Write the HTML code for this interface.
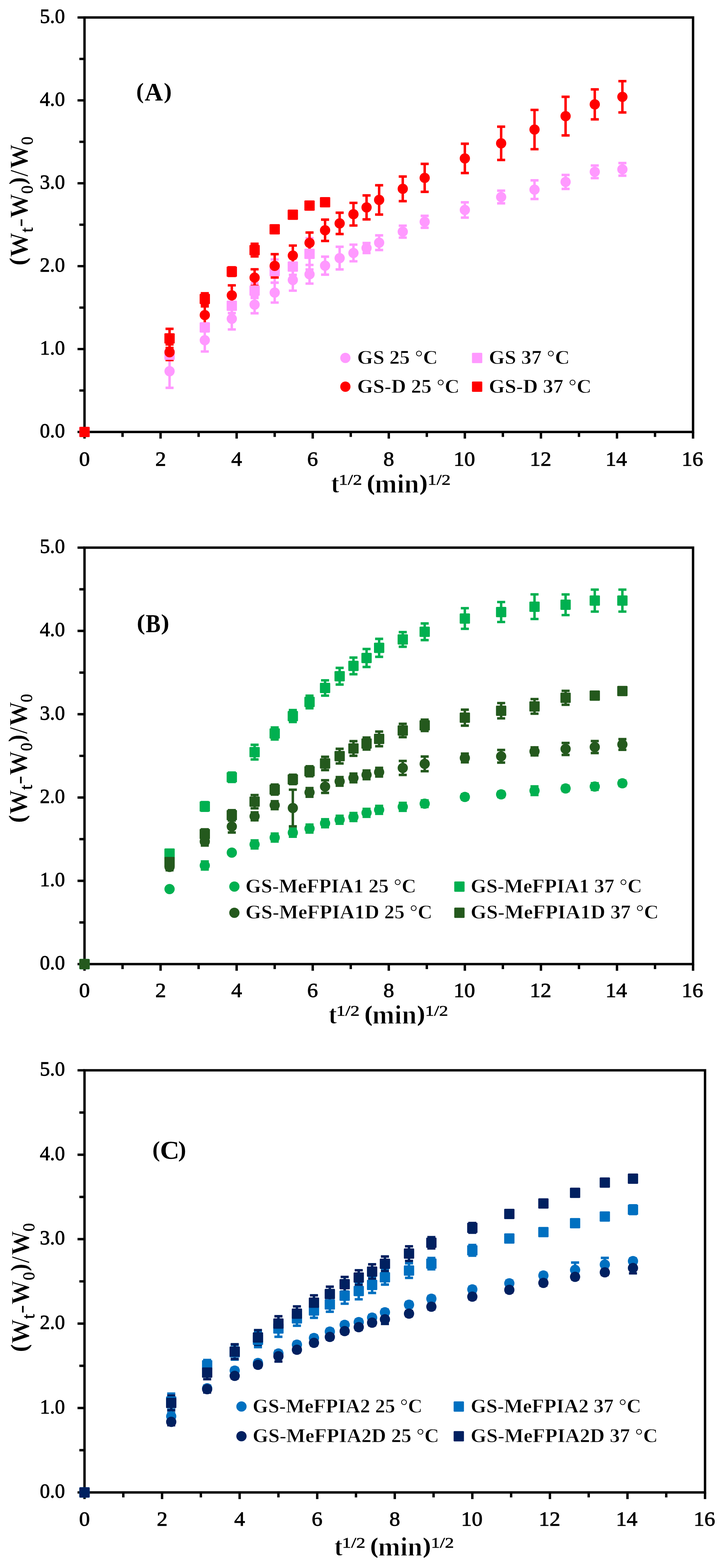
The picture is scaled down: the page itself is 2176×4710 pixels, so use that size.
<!DOCTYPE html>
<html><head><meta charset="utf-8"><title>Swelling kinetics</title><style>
html,body{margin:0;padding:0;background:#fff;}
body{width:2176px;height:4710px;overflow:hidden;}
svg{display:block;}
text{font-family:"Liberation Serif", "DejaVu Serif", serif;font-kerning:none;fill:#000;}
.tk{font-size:60.5px;font-weight:normal;stroke:#000;stroke-width:1.3px;}
.tt{stroke:#fff;stroke-width:1.6px;}
.ss{stroke:#000;stroke-width:0.9px;}
.pb{stroke:#000;stroke-width:1.2px;}
.lt{stroke:#fff;stroke-width:1.0px;}
</style></head>
<body>
<svg width="2176" height="4710" viewBox="0 0 2176 4710">
<rect width="2176" height="4710" fill="#fff"/>
<g><rect x="254" y="52.5" width="1829" height="1245.0" fill="none" stroke="#000" stroke-width="7.2"/><path d="M233.0 1297.5H254M238.5 1173.0H254M233.0 1048.5H254M238.5 924.0H254M233.0 799.5H254M238.5 675.0H254M233.0 550.5H254M238.5 426.0H254M233.0 301.5H254M238.5 177.0H254M233.0 52.5H254M254.0 1297.5V1317.5M368.3 1297.5V1312.5M482.6 1297.5V1317.5M596.9 1297.5V1312.5M711.2 1297.5V1317.5M825.6 1297.5V1312.5M939.9 1297.5V1317.5M1054.2 1297.5V1312.5M1168.5 1297.5V1317.5M1282.8 1297.5V1312.5M1397.1 1297.5V1317.5M1511.4 1297.5V1312.5M1625.8 1297.5V1317.5M1740.1 1297.5V1312.5M1854.4 1297.5V1317.5M1968.7 1297.5V1312.5M2083.0 1297.5V1317.5" stroke="#000" stroke-width="7.2" fill="none"/><text x="119.68" y="1313.70" class="tk" textLength="75.62" lengthAdjust="spacingAndGlyphs">0.0</text><text x="119.68" y="1064.70" class="tk" textLength="75.62" lengthAdjust="spacingAndGlyphs">1.0</text><text x="119.68" y="815.70" class="tk" textLength="75.62" lengthAdjust="spacingAndGlyphs">2.0</text><text x="119.68" y="566.70" class="tk" textLength="75.62" lengthAdjust="spacingAndGlyphs">3.0</text><text x="119.68" y="317.70" class="tk" textLength="75.62" lengthAdjust="spacingAndGlyphs">4.0</text><text x="119.68" y="68.70" class="tk" textLength="75.62" lengthAdjust="spacingAndGlyphs">5.0</text><text x="237.82" y="1399.00" class="tk" textLength="32.37" lengthAdjust="spacingAndGlyphs">0</text><text x="466.80" y="1399.00" class="tk" textLength="32.37" lengthAdjust="spacingAndGlyphs">2</text><text x="694.94" y="1399.00" class="tk" textLength="32.37" lengthAdjust="spacingAndGlyphs">4</text><text x="923.26" y="1399.00" class="tk" textLength="32.37" lengthAdjust="spacingAndGlyphs">6</text><text x="1152.32" y="1399.00" class="tk" textLength="32.37" lengthAdjust="spacingAndGlyphs">8</text><text x="1363.15" y="1399.00" class="tk" textLength="64.73" lengthAdjust="spacingAndGlyphs">10</text><text x="1592.32" y="1399.00" class="tk" textLength="64.73" lengthAdjust="spacingAndGlyphs">12</text><text x="1819.67" y="1399.00" class="tk" textLength="64.73" lengthAdjust="spacingAndGlyphs">14</text><text x="2048.75" y="1399.00" class="tk" textLength="64.73" lengthAdjust="spacingAndGlyphs">16</text><path d="M509.6 1065.0V1165.0M497.5 1065.0H521.7M497.5 1165.0H521.7" stroke="#FF99FF" stroke-width="7.4" fill="none"/><path d="M615.5 987.9V1055.9M603.4 987.9H627.6M603.4 1055.9H627.6" stroke="#FF99FF" stroke-width="7.4" fill="none"/><path d="M696.7 925.6V989.6M684.6 925.6H708.8M684.6 989.6H708.8" stroke="#FF99FF" stroke-width="7.4" fill="none"/><path d="M765.2 889.0V941.0M753.1 889.0H777.3M753.1 941.0H777.3" stroke="#FF99FF" stroke-width="7.4" fill="none"/><path d="M825.6 848.9V908.9M813.5 848.9H837.7M813.5 908.9H837.7" stroke="#FF99FF" stroke-width="7.4" fill="none"/><path d="M880.1 809.1V873.1M868.0 809.1H892.2M868.0 873.1H892.2" stroke="#FF99FF" stroke-width="7.4" fill="none"/><path d="M930.3 795.9V851.9M918.2 795.9H942.4M918.2 851.9H942.4" stroke="#FF99FF" stroke-width="7.4" fill="none"/><path d="M977.0 771.0V825.0M964.9 771.0H989.1M964.9 825.0H989.1" stroke="#FF99FF" stroke-width="7.4" fill="none"/><path d="M1020.8 741.3V809.3M1008.7 741.3H1032.9M1008.7 809.3H1032.9" stroke="#FF99FF" stroke-width="7.4" fill="none"/><path d="M1062.3 734.9V784.9M1050.2 734.9H1074.4M1050.2 784.9H1074.4" stroke="#FF99FF" stroke-width="7.4" fill="none"/><path d="M1101.7 730.0V760.0M1089.6 730.0H1113.8M1089.6 760.0H1113.8" stroke="#FF99FF" stroke-width="7.4" fill="none"/><path d="M1139.5 707.0V751.0M1127.4 707.0H1151.6M1127.4 751.0H1151.6" stroke="#FF99FF" stroke-width="7.4" fill="none"/><path d="M1210.5 677.9V713.9M1198.4 677.9H1222.6M1198.4 713.9H1222.6" stroke="#FF99FF" stroke-width="7.4" fill="none"/><path d="M1276.4 648.3V684.3M1264.3 648.3H1288.5M1264.3 684.3H1288.5" stroke="#FF99FF" stroke-width="7.4" fill="none"/><path d="M1397.1 607.7V653.7M1385.0 607.7H1409.2M1385.0 653.7H1409.2" stroke="#FF99FF" stroke-width="7.4" fill="none"/><path d="M1506.2 572.8V610.8M1494.1 572.8H1518.3M1494.1 610.8H1518.3" stroke="#FF99FF" stroke-width="7.4" fill="none"/><path d="M1606.5 541.7V597.7M1594.4 541.7H1618.6M1594.4 597.7H1618.6" stroke="#FF99FF" stroke-width="7.4" fill="none"/><path d="M1699.9 525.5V567.5M1687.8 525.5H1712.0M1687.8 567.5H1712.0" stroke="#FF99FF" stroke-width="7.4" fill="none"/><path d="M1787.6 497.1V535.1M1775.5 497.1H1799.7M1775.5 535.1H1799.7" stroke="#FF99FF" stroke-width="7.4" fill="none"/><path d="M1870.6 489.7V527.7M1858.5 489.7H1882.7M1858.5 527.7H1882.7" stroke="#FF99FF" stroke-width="7.4" fill="none"/><path d="M509.6 1049.4V1081.4M497.5 1049.4H521.7M497.5 1081.4H521.7" stroke="#FF99FF" stroke-width="7.4" fill="none"/><path d="M615.5 971.5V995.5M603.4 971.5H627.6M603.4 995.5H627.6" stroke="#FF99FF" stroke-width="7.4" fill="none"/><path d="M696.7 896.5V940.5M684.6 896.5H708.8M684.6 940.5H708.8" stroke="#FF99FF" stroke-width="7.4" fill="none"/><path d="M765.2 851.0V895.0M753.1 851.0H777.3M753.1 895.0H777.3" stroke="#FF99FF" stroke-width="7.4" fill="none"/><path d="M825.6 779.4V849.4M813.5 779.4H837.7M813.5 849.4H837.7" stroke="#FF99FF" stroke-width="7.4" fill="none"/><path d="M880.1 775.7V825.7M868.0 775.7H892.2M868.0 825.7H892.2" stroke="#FF99FF" stroke-width="7.4" fill="none"/><path d="M930.3 715.4V809.4M918.2 715.4H942.4M918.2 809.4H942.4" stroke="#FF99FF" stroke-width="7.4" fill="none"/><path d="M509.6 1034.5V1081.5M497.5 1034.5H521.7M497.5 1081.5H521.7" stroke="#FF0000" stroke-width="7.4" fill="none"/><path d="M615.5 920.4V972.4M603.4 920.4H627.6M603.4 972.4H627.6" stroke="#FF0000" stroke-width="7.4" fill="none"/><path d="M696.7 857.1V917.1M684.6 857.1H708.8M684.6 917.1H708.8" stroke="#FF0000" stroke-width="7.4" fill="none"/><path d="M765.2 808.9V858.9M753.1 808.9H777.3M753.1 858.9H777.3" stroke="#FF0000" stroke-width="7.4" fill="none"/><path d="M825.6 763.5V833.5M813.5 763.5H837.7M813.5 833.5H837.7" stroke="#FF0000" stroke-width="7.4" fill="none"/><path d="M880.1 737.6V797.6M868.0 737.6H892.2M868.0 797.6H892.2" stroke="#FF0000" stroke-width="7.4" fill="none"/><path d="M930.3 698.5V760.5M918.2 698.5H942.4M918.2 760.5H942.4" stroke="#FF0000" stroke-width="7.4" fill="none"/><path d="M977.0 659.7V723.7M964.9 659.7H989.1M964.9 723.7H989.1" stroke="#FF0000" stroke-width="7.4" fill="none"/><path d="M1020.8 639.0V703.0M1008.7 639.0H1032.9M1008.7 703.0H1032.9" stroke="#FF0000" stroke-width="7.4" fill="none"/><path d="M1062.3 609.4V677.4M1050.2 609.4H1074.4M1050.2 677.4H1074.4" stroke="#FF0000" stroke-width="7.4" fill="none"/><path d="M1101.7 587.0V659.0M1089.6 587.0H1113.8M1089.6 659.0H1113.8" stroke="#FF0000" stroke-width="7.4" fill="none"/><path d="M1139.5 556.5V644.5M1127.4 556.5H1151.6M1127.4 644.5H1151.6" stroke="#FF0000" stroke-width="7.4" fill="none"/><path d="M1210.5 530.2V604.2M1198.4 530.2H1222.6M1198.4 604.2H1222.6" stroke="#FF0000" stroke-width="7.4" fill="none"/><path d="M1276.4 492.3V576.3M1264.3 492.3H1288.5M1264.3 576.3H1288.5" stroke="#FF0000" stroke-width="7.4" fill="none"/><path d="M1397.1 431.8V519.8M1385.0 431.8H1409.2M1385.0 519.8H1409.2" stroke="#FF0000" stroke-width="7.4" fill="none"/><path d="M1506.2 380.5V480.5M1494.1 380.5H1518.3M1494.1 480.5H1518.3" stroke="#FF0000" stroke-width="7.4" fill="none"/><path d="M1606.5 330.1V448.1M1594.4 330.1H1618.6M1594.4 448.1H1618.6" stroke="#FF0000" stroke-width="7.4" fill="none"/><path d="M1699.9 290.8V406.8M1687.8 290.8H1712.0M1687.8 406.8H1712.0" stroke="#FF0000" stroke-width="7.4" fill="none"/><path d="M1787.6 268.5V358.5M1775.5 268.5H1799.7M1775.5 358.5H1799.7" stroke="#FF0000" stroke-width="7.4" fill="none"/><path d="M1870.6 243.8V337.8M1858.5 243.8H1882.7M1858.5 337.8H1882.7" stroke="#FF0000" stroke-width="7.4" fill="none"/><path d="M509.6 987.7V1045.1M497.5 987.7H521.7M497.5 1045.1H521.7" stroke="#FF0000" stroke-width="7.4" fill="none"/><path d="M615.5 880.9V914.9M603.4 880.9H627.6M603.4 914.9H627.6" stroke="#FF0000" stroke-width="7.4" fill="none"/><path d="M696.7 802.9V828.9M684.6 802.9H708.8M684.6 828.9H708.8" stroke="#FF0000" stroke-width="7.4" fill="none"/><path d="M765.2 732.2V770.2M753.1 732.2H777.3M753.1 770.2H777.3" stroke="#FF0000" stroke-width="7.4" fill="none"/><path d="M825.6 680.7V696.7M813.5 680.7H837.7M813.5 696.7H837.7" stroke="#FF0000" stroke-width="7.4" fill="none"/><path d="M880.1 637.1V653.1M868.0 637.1H892.2M868.0 653.1H892.2" stroke="#FF0000" stroke-width="7.4" fill="none"/><path d="M930.3 609.5V625.5M918.2 609.5H942.4M918.2 625.5H942.4" stroke="#FF0000" stroke-width="7.4" fill="none"/><path d="M977.0 599.5V615.5M964.9 599.5H989.1M964.9 615.5H989.1" stroke="#FF0000" stroke-width="7.4" fill="none"/><circle cx="254.0" cy="1297.5" r="15.4" fill="#FF99FF"/><circle cx="509.6" cy="1115.0" r="15.4" fill="#FF99FF"/><circle cx="615.5" cy="1021.9" r="15.4" fill="#FF99FF"/><circle cx="696.7" cy="957.6" r="15.4" fill="#FF99FF"/><circle cx="765.2" cy="915.0" r="15.4" fill="#FF99FF"/><circle cx="825.6" cy="878.9" r="15.4" fill="#FF99FF"/><circle cx="880.1" cy="841.1" r="15.4" fill="#FF99FF"/><circle cx="930.3" cy="823.9" r="15.4" fill="#FF99FF"/><circle cx="977.0" cy="798.0" r="15.4" fill="#FF99FF"/><circle cx="1020.8" cy="775.3" r="15.4" fill="#FF99FF"/><circle cx="1062.3" cy="759.9" r="15.4" fill="#FF99FF"/><circle cx="1101.7" cy="745.0" r="15.4" fill="#FF99FF"/><circle cx="1139.5" cy="729.0" r="15.4" fill="#FF99FF"/><circle cx="1210.5" cy="695.9" r="15.4" fill="#FF99FF"/><circle cx="1276.4" cy="666.3" r="15.4" fill="#FF99FF"/><circle cx="1397.1" cy="630.7" r="15.4" fill="#FF99FF"/><circle cx="1506.2" cy="591.8" r="15.4" fill="#FF99FF"/><circle cx="1606.5" cy="569.7" r="15.4" fill="#FF99FF"/><circle cx="1699.9" cy="546.5" r="15.4" fill="#FF99FF"/><circle cx="1787.6" cy="516.1" r="15.4" fill="#FF99FF"/><circle cx="1870.6" cy="508.7" r="15.4" fill="#FF99FF"/><rect x="238.5" y="1282.0" width="31.0" height="31.0" rx="2.5" fill="#FF99FF"/><rect x="494.1" y="1049.9" width="31.0" height="31.0" rx="2.5" fill="#FF99FF"/><rect x="600.0" y="968.0" width="31.0" height="31.0" rx="2.5" fill="#FF99FF"/><rect x="681.2" y="903.0" width="31.0" height="31.0" rx="2.5" fill="#FF99FF"/><rect x="749.7" y="857.5" width="31.0" height="31.0" rx="2.5" fill="#FF99FF"/><rect x="810.1" y="798.9" width="31.0" height="31.0" rx="2.5" fill="#FF99FF"/><rect x="864.6" y="785.2" width="31.0" height="31.0" rx="2.5" fill="#FF99FF"/><rect x="914.8" y="746.9" width="31.0" height="31.0" rx="2.5" fill="#FF99FF"/><circle cx="254.0" cy="1297.5" r="15.4" fill="#FF0000"/><circle cx="509.6" cy="1058.0" r="15.4" fill="#FF0000"/><circle cx="615.5" cy="946.4" r="15.4" fill="#FF0000"/><circle cx="696.7" cy="887.1" r="15.4" fill="#FF0000"/><circle cx="765.2" cy="833.9" r="15.4" fill="#FF0000"/><circle cx="825.6" cy="798.5" r="15.4" fill="#FF0000"/><circle cx="880.1" cy="767.6" r="15.4" fill="#FF0000"/><circle cx="930.3" cy="729.5" r="15.4" fill="#FF0000"/><circle cx="977.0" cy="691.7" r="15.4" fill="#FF0000"/><circle cx="1020.8" cy="671.0" r="15.4" fill="#FF0000"/><circle cx="1062.3" cy="643.4" r="15.4" fill="#FF0000"/><circle cx="1101.7" cy="623.0" r="15.4" fill="#FF0000"/><circle cx="1139.5" cy="600.5" r="15.4" fill="#FF0000"/><circle cx="1210.5" cy="567.2" r="15.4" fill="#FF0000"/><circle cx="1276.4" cy="534.3" r="15.4" fill="#FF0000"/><circle cx="1397.1" cy="475.8" r="15.4" fill="#FF0000"/><circle cx="1506.2" cy="430.5" r="15.4" fill="#FF0000"/><circle cx="1606.5" cy="389.1" r="15.4" fill="#FF0000"/><circle cx="1699.9" cy="348.8" r="15.4" fill="#FF0000"/><circle cx="1787.6" cy="313.5" r="15.4" fill="#FF0000"/><circle cx="1870.6" cy="290.8" r="15.4" fill="#FF0000"/><rect x="238.5" y="1282.0" width="31.0" height="31.0" rx="2.5" fill="#FF0000"/><rect x="494.1" y="1000.9" width="31.0" height="31.0" rx="2.5" fill="#FF0000"/><rect x="600.0" y="882.4" width="31.0" height="31.0" rx="2.5" fill="#FF0000"/><rect x="681.2" y="800.4" width="31.0" height="31.0" rx="2.5" fill="#FF0000"/><rect x="749.7" y="735.7" width="31.0" height="31.0" rx="2.5" fill="#FF0000"/><rect x="810.1" y="673.2" width="31.0" height="31.0" rx="2.5" fill="#FF0000"/><rect x="864.6" y="629.6" width="31.0" height="31.0" rx="2.5" fill="#FF0000"/><rect x="914.8" y="602.0" width="31.0" height="31.0" rx="2.5" fill="#FF0000"/><rect x="961.5" y="592.0" width="31.0" height="31.0" rx="2.5" fill="#FF0000"/><circle cx="1038.0" cy="1075.2" r="15.4" fill="#FF99FF"/><text x="1073.61" y="1093.30" font-size="60" font-weight="bold" textLength="242.05" lengthAdjust="spacingAndGlyphs" class="lt">GS 25 °C</text><rect x="1418.5" y="1059.7" width="31.0" height="31.0" rx="2.5" fill="#FF99FF"/><text x="1469.30" y="1093.30" font-size="60" font-weight="bold" textLength="242.98" lengthAdjust="spacingAndGlyphs" class="lt">GS 37 °C</text><circle cx="1038.0" cy="1161.5" r="15.4" fill="#FF0000"/><text x="1073.60" y="1179.60" font-size="60" font-weight="bold" textLength="307.57" lengthAdjust="spacingAndGlyphs" class="lt">GS-D 25 °C</text><rect x="1418.5" y="1146.0" width="31.0" height="31.0" rx="2.5" fill="#FF0000"/><text x="1469.30" y="1179.60" font-size="60" font-weight="bold" textLength="308.39" lengthAdjust="spacingAndGlyphs" class="lt">GS-D 37 °C</text></g>
<g><rect x="254" y="1645" width="1829" height="1251" fill="none" stroke="#000" stroke-width="7.2"/><path d="M233.0 2896.0H254M238.5 2770.9H254M233.0 2645.8H254M238.5 2520.7H254M233.0 2395.6H254M238.5 2270.5H254M233.0 2145.4H254M238.5 2020.3H254M233.0 1895.2H254M238.5 1770.1H254M233.0 1645.0H254M254.0 2896V2916.0M368.3 2896V2911.0M482.6 2896V2916.0M596.9 2896V2911.0M711.2 2896V2916.0M825.6 2896V2911.0M939.9 2896V2916.0M1054.2 2896V2911.0M1168.5 2896V2916.0M1282.8 2896V2911.0M1397.1 2896V2916.0M1511.4 2896V2911.0M1625.8 2896V2916.0M1740.1 2896V2911.0M1854.4 2896V2916.0M1968.7 2896V2911.0M2083.0 2896V2916.0" stroke="#000" stroke-width="7.2" fill="none"/><text x="119.68" y="2912.20" class="tk" textLength="75.62" lengthAdjust="spacingAndGlyphs">0.0</text><text x="119.68" y="2662.00" class="tk" textLength="75.62" lengthAdjust="spacingAndGlyphs">1.0</text><text x="119.68" y="2411.80" class="tk" textLength="75.62" lengthAdjust="spacingAndGlyphs">2.0</text><text x="119.68" y="2161.60" class="tk" textLength="75.62" lengthAdjust="spacingAndGlyphs">3.0</text><text x="119.68" y="1911.40" class="tk" textLength="75.62" lengthAdjust="spacingAndGlyphs">4.0</text><text x="119.68" y="1661.20" class="tk" textLength="75.62" lengthAdjust="spacingAndGlyphs">5.0</text><text x="237.82" y="2995.20" class="tk" textLength="32.37" lengthAdjust="spacingAndGlyphs">0</text><text x="466.80" y="2995.20" class="tk" textLength="32.37" lengthAdjust="spacingAndGlyphs">2</text><text x="694.94" y="2995.20" class="tk" textLength="32.37" lengthAdjust="spacingAndGlyphs">4</text><text x="923.26" y="2995.20" class="tk" textLength="32.37" lengthAdjust="spacingAndGlyphs">6</text><text x="1152.32" y="2995.20" class="tk" textLength="32.37" lengthAdjust="spacingAndGlyphs">8</text><text x="1363.15" y="2995.20" class="tk" textLength="64.73" lengthAdjust="spacingAndGlyphs">10</text><text x="1592.32" y="2995.20" class="tk" textLength="64.73" lengthAdjust="spacingAndGlyphs">12</text><text x="1819.67" y="2995.20" class="tk" textLength="64.73" lengthAdjust="spacingAndGlyphs">14</text><text x="2048.75" y="2995.20" class="tk" textLength="64.73" lengthAdjust="spacingAndGlyphs">16</text><path d="M615.5 2587.8V2611.8M603.4 2587.8H627.6M603.4 2611.8H627.6" stroke="#00B050" stroke-width="7.4" fill="none"/><path d="M765.2 2524.5V2548.5M753.1 2524.5H777.3M753.1 2548.5H777.3" stroke="#00B050" stroke-width="7.4" fill="none"/><path d="M825.6 2503.9V2527.9M813.5 2503.9H837.7M813.5 2527.9H837.7" stroke="#00B050" stroke-width="7.4" fill="none"/><path d="M880.1 2489.2V2513.2M868.0 2489.2H892.2M868.0 2513.2H892.2" stroke="#00B050" stroke-width="7.4" fill="none"/><path d="M930.3 2476.9V2500.9M918.2 2476.9H942.4M918.2 2500.9H942.4" stroke="#00B050" stroke-width="7.4" fill="none"/><path d="M977.0 2460.9V2484.9M964.9 2460.9H989.1M964.9 2484.9H989.1" stroke="#00B050" stroke-width="7.4" fill="none"/><path d="M1020.8 2450.4V2474.4M1008.7 2450.4H1032.9M1008.7 2474.4H1032.9" stroke="#00B050" stroke-width="7.4" fill="none"/><path d="M1062.3 2442.1V2466.1M1050.2 2442.1H1074.4M1050.2 2466.1H1074.4" stroke="#00B050" stroke-width="7.4" fill="none"/><path d="M1101.7 2429.6V2453.6M1089.6 2429.6H1113.8M1089.6 2453.6H1113.8" stroke="#00B050" stroke-width="7.4" fill="none"/><path d="M1139.5 2420.6V2444.6M1127.4 2420.6H1151.6M1127.4 2444.6H1151.6" stroke="#00B050" stroke-width="7.4" fill="none"/><path d="M1210.5 2411.6V2435.6M1198.4 2411.6H1222.6M1198.4 2435.6H1222.6" stroke="#00B050" stroke-width="7.4" fill="none"/><path d="M1276.4 2404.1V2424.1M1264.3 2404.1H1288.5M1264.3 2424.1H1288.5" stroke="#00B050" stroke-width="7.4" fill="none"/><path d="M1397.1 2385.8V2401.8M1385.0 2385.8H1409.2M1385.0 2401.8H1409.2" stroke="#00B050" stroke-width="7.4" fill="none"/><path d="M1506.2 2378.1V2394.1M1494.1 2378.1H1518.3M1494.1 2394.1H1518.3" stroke="#00B050" stroke-width="7.4" fill="none"/><path d="M1606.5 2362.1V2388.1M1594.4 2362.1H1618.6M1594.4 2388.1H1618.6" stroke="#00B050" stroke-width="7.4" fill="none"/><path d="M1699.9 2360.3V2376.3M1687.8 2360.3H1712.0M1687.8 2376.3H1712.0" stroke="#00B050" stroke-width="7.4" fill="none"/><path d="M1787.6 2352.6V2372.6M1775.5 2352.6H1799.7M1775.5 2372.6H1799.7" stroke="#00B050" stroke-width="7.4" fill="none"/><path d="M1870.6 2344.8V2360.8M1858.5 2344.8H1882.7M1858.5 2360.8H1882.7" stroke="#00B050" stroke-width="7.4" fill="none"/><path d="M509.6 2556.0V2572.0M497.5 2556.0H521.7M497.5 2572.0H521.7" stroke="#00B050" stroke-width="7.4" fill="none"/><path d="M615.5 2409.4V2435.4M603.4 2409.4H627.6M603.4 2435.4H627.6" stroke="#00B050" stroke-width="7.4" fill="none"/><path d="M696.7 2320.8V2348.8M684.6 2320.8H708.8M684.6 2348.8H708.8" stroke="#00B050" stroke-width="7.4" fill="none"/><path d="M765.2 2237.2V2281.2M753.1 2237.2H777.3M753.1 2281.2H777.3" stroke="#00B050" stroke-width="7.4" fill="none"/><path d="M825.6 2185.2V2221.2M813.5 2185.2H837.7M813.5 2221.2H837.7" stroke="#00B050" stroke-width="7.4" fill="none"/><path d="M880.1 2132.9V2168.9M868.0 2132.9H892.2M868.0 2168.9H892.2" stroke="#00B050" stroke-width="7.4" fill="none"/><path d="M930.3 2089.6V2127.6M918.2 2089.6H942.4M918.2 2127.6H942.4" stroke="#00B050" stroke-width="7.4" fill="none"/><path d="M977.0 2043.6V2089.6M964.9 2043.6H989.1M964.9 2089.6H989.1" stroke="#00B050" stroke-width="7.4" fill="none"/><path d="M1020.8 2006.3V2056.3M1008.7 2006.3H1032.9M1008.7 2056.3H1032.9" stroke="#00B050" stroke-width="7.4" fill="none"/><path d="M1062.3 1975.3V2025.3M1050.2 1975.3H1074.4M1050.2 2025.3H1074.4" stroke="#00B050" stroke-width="7.4" fill="none"/><path d="M1101.7 1949.5V2003.5M1089.6 1949.5H1113.8M1089.6 2003.5H1113.8" stroke="#00B050" stroke-width="7.4" fill="none"/><path d="M1139.5 1919.0V1973.0M1127.4 1919.0H1151.6M1127.4 1973.0H1151.6" stroke="#00B050" stroke-width="7.4" fill="none"/><path d="M1210.5 1898.7V1942.7M1198.4 1898.7H1222.6M1198.4 1942.7H1222.6" stroke="#00B050" stroke-width="7.4" fill="none"/><path d="M1276.4 1872.7V1922.7M1264.3 1872.7H1288.5M1264.3 1922.7H1288.5" stroke="#00B050" stroke-width="7.4" fill="none"/><path d="M1397.1 1826.9V1888.9M1385.0 1826.9H1409.2M1385.0 1888.9H1409.2" stroke="#00B050" stroke-width="7.4" fill="none"/><path d="M1506.2 1808.4V1868.4M1494.1 1808.4H1518.3M1494.1 1868.4H1518.3" stroke="#00B050" stroke-width="7.4" fill="none"/><path d="M1606.5 1785.4V1859.4M1594.4 1785.4H1618.6M1594.4 1859.4H1618.6" stroke="#00B050" stroke-width="7.4" fill="none"/><path d="M1699.9 1785.6V1847.6M1687.8 1785.6H1712.0M1687.8 1847.6H1712.0" stroke="#00B050" stroke-width="7.4" fill="none"/><path d="M1787.6 1771.1V1837.1M1775.5 1771.1H1799.7M1775.5 1837.1H1799.7" stroke="#00B050" stroke-width="7.4" fill="none"/><path d="M1870.6 1771.1V1837.1M1858.5 1771.1H1882.7M1858.5 1837.1H1882.7" stroke="#00B050" stroke-width="7.4" fill="none"/><path d="M509.6 2594.0V2614.0M497.5 2594.0H521.7M497.5 2614.0H521.7" stroke="#24591D" stroke-width="7.4" fill="none"/><path d="M615.5 2515.7V2539.7M603.4 2515.7H627.6M603.4 2539.7H627.6" stroke="#24591D" stroke-width="7.4" fill="none"/><path d="M696.7 2464.7V2500.7M684.6 2464.7H708.8M684.6 2500.7H708.8" stroke="#24591D" stroke-width="7.4" fill="none"/><path d="M765.2 2440.1V2464.1M753.1 2440.1H777.3M753.1 2464.1H777.3" stroke="#24591D" stroke-width="7.4" fill="none"/><path d="M825.6 2406.6V2430.6M813.5 2406.6H837.7M813.5 2430.6H837.7" stroke="#24591D" stroke-width="7.4" fill="none"/><path d="M880.1 2372.1V2482.1M868.0 2372.1H892.2M868.0 2482.1H892.2" stroke="#24591D" stroke-width="7.4" fill="none"/><path d="M930.3 2367.3V2393.3M918.2 2367.3H942.4M918.2 2393.3H942.4" stroke="#24591D" stroke-width="7.4" fill="none"/><path d="M977.0 2343.8V2381.8M964.9 2343.8H989.1M964.9 2381.8H989.1" stroke="#24591D" stroke-width="7.4" fill="none"/><path d="M1020.8 2334.1V2360.1M1008.7 2334.1H1032.9M1008.7 2360.1H1032.9" stroke="#24591D" stroke-width="7.4" fill="none"/><path d="M1062.3 2323.8V2349.8M1050.2 2323.8H1074.4M1050.2 2349.8H1074.4" stroke="#24591D" stroke-width="7.4" fill="none"/><path d="M1101.7 2314.5V2340.5M1089.6 2314.5H1113.8M1089.6 2340.5H1113.8" stroke="#24591D" stroke-width="7.4" fill="none"/><path d="M1139.5 2306.5V2332.5M1127.4 2306.5H1151.6M1127.4 2332.5H1151.6" stroke="#24591D" stroke-width="7.4" fill="none"/><path d="M1210.5 2285.8V2327.8M1198.4 2285.8H1222.6M1198.4 2327.8H1222.6" stroke="#24591D" stroke-width="7.4" fill="none"/><path d="M1276.4 2272.5V2316.5M1264.3 2272.5H1288.5M1264.3 2316.5H1288.5" stroke="#24591D" stroke-width="7.4" fill="none"/><path d="M1397.1 2263.8V2289.8M1385.0 2263.8H1409.2M1385.0 2289.8H1409.2" stroke="#24591D" stroke-width="7.4" fill="none"/><path d="M1506.2 2252.8V2290.8M1494.1 2252.8H1518.3M1494.1 2290.8H1518.3" stroke="#24591D" stroke-width="7.4" fill="none"/><path d="M1606.5 2245.0V2269.0M1594.4 2245.0H1618.6M1594.4 2269.0H1618.6" stroke="#24591D" stroke-width="7.4" fill="none"/><path d="M1699.9 2231.7V2267.7M1687.8 2231.7H1712.0M1687.8 2267.7H1712.0" stroke="#24591D" stroke-width="7.4" fill="none"/><path d="M1787.6 2226.0V2262.0M1775.5 2226.0H1799.7M1775.5 2262.0H1799.7" stroke="#24591D" stroke-width="7.4" fill="none"/><path d="M1870.6 2220.2V2252.2M1858.5 2220.2H1882.7M1858.5 2252.2H1882.7" stroke="#24591D" stroke-width="7.4" fill="none"/><path d="M509.6 2577.5V2601.5M497.5 2577.5H521.7M497.5 2601.5H521.7" stroke="#24591D" stroke-width="7.4" fill="none"/><path d="M615.5 2491.2V2519.2M603.4 2491.2H627.6M603.4 2519.2H627.6" stroke="#24591D" stroke-width="7.4" fill="none"/><path d="M696.7 2433.6V2463.6M684.6 2433.6H708.8M684.6 2463.6H708.8" stroke="#24591D" stroke-width="7.4" fill="none"/><path d="M765.2 2388.1V2428.1M753.1 2388.1H777.3M753.1 2428.1H777.3" stroke="#24591D" stroke-width="7.4" fill="none"/><path d="M825.6 2356.8V2386.8M813.5 2356.8H837.7M813.5 2386.8H837.7" stroke="#24591D" stroke-width="7.4" fill="none"/><path d="M880.1 2327.3V2355.3M868.0 2327.3H892.2M868.0 2355.3H892.2" stroke="#24591D" stroke-width="7.4" fill="none"/><path d="M930.3 2301.8V2331.8M918.2 2301.8H942.4M918.2 2331.8H942.4" stroke="#24591D" stroke-width="7.4" fill="none"/><path d="M977.0 2273.3V2313.3M964.9 2273.3H989.1M964.9 2313.3H989.1" stroke="#24591D" stroke-width="7.4" fill="none"/><path d="M1020.8 2249.3V2293.3M1008.7 2249.3H1032.9M1008.7 2293.3H1032.9" stroke="#24591D" stroke-width="7.4" fill="none"/><path d="M1062.3 2226.2V2270.2M1050.2 2226.2H1074.4M1050.2 2270.2H1074.4" stroke="#24591D" stroke-width="7.4" fill="none"/><path d="M1101.7 2215.5V2251.5M1089.6 2215.5H1113.8M1089.6 2251.5H1113.8" stroke="#24591D" stroke-width="7.4" fill="none"/><path d="M1139.5 2197.5V2241.5M1127.4 2197.5H1151.6M1127.4 2241.5H1151.6" stroke="#24591D" stroke-width="7.4" fill="none"/><path d="M1210.5 2174.2V2214.2M1198.4 2174.2H1222.6M1198.4 2214.2H1222.6" stroke="#24591D" stroke-width="7.4" fill="none"/><path d="M1276.4 2161.7V2195.7M1264.3 2161.7H1288.5M1264.3 2195.7H1288.5" stroke="#24591D" stroke-width="7.4" fill="none"/><path d="M1397.1 2131.7V2179.7M1385.0 2131.7H1409.2M1385.0 2179.7H1409.2" stroke="#24591D" stroke-width="7.4" fill="none"/><path d="M1506.2 2111.9V2157.9M1494.1 2111.9H1518.3M1494.1 2157.9H1518.3" stroke="#24591D" stroke-width="7.4" fill="none"/><path d="M1606.5 2099.9V2143.9M1594.4 2099.9H1618.6M1594.4 2143.9H1618.6" stroke="#24591D" stroke-width="7.4" fill="none"/><path d="M1699.9 2075.1V2117.1M1687.8 2075.1H1712.0M1687.8 2117.1H1712.0" stroke="#24591D" stroke-width="7.4" fill="none"/><path d="M1787.6 2079.4V2099.4M1775.5 2079.4H1799.7M1775.5 2099.4H1799.7" stroke="#24591D" stroke-width="7.4" fill="none"/><path d="M1870.6 2065.8V2085.8M1858.5 2065.8H1882.7M1858.5 2085.8H1882.7" stroke="#24591D" stroke-width="7.4" fill="none"/><circle cx="254.0" cy="2896.0" r="15.4" fill="#00B050"/><circle cx="509.6" cy="2670.6" r="15.4" fill="#00B050"/><circle cx="615.5" cy="2599.8" r="15.4" fill="#00B050"/><circle cx="696.7" cy="2561.2" r="15.4" fill="#00B050"/><circle cx="765.2" cy="2536.5" r="15.4" fill="#00B050"/><circle cx="825.6" cy="2515.9" r="15.4" fill="#00B050"/><circle cx="880.1" cy="2501.2" r="15.4" fill="#00B050"/><circle cx="930.3" cy="2488.9" r="15.4" fill="#00B050"/><circle cx="977.0" cy="2472.9" r="15.4" fill="#00B050"/><circle cx="1020.8" cy="2462.4" r="15.4" fill="#00B050"/><circle cx="1062.3" cy="2454.1" r="15.4" fill="#00B050"/><circle cx="1101.7" cy="2441.6" r="15.4" fill="#00B050"/><circle cx="1139.5" cy="2432.6" r="15.4" fill="#00B050"/><circle cx="1210.5" cy="2423.6" r="15.4" fill="#00B050"/><circle cx="1276.4" cy="2414.1" r="15.4" fill="#00B050"/><circle cx="1397.1" cy="2393.8" r="15.4" fill="#00B050"/><circle cx="1506.2" cy="2386.1" r="15.4" fill="#00B050"/><circle cx="1606.5" cy="2375.1" r="15.4" fill="#00B050"/><circle cx="1699.9" cy="2368.3" r="15.4" fill="#00B050"/><circle cx="1787.6" cy="2362.6" r="15.4" fill="#00B050"/><circle cx="1870.6" cy="2352.8" r="15.4" fill="#00B050"/><rect x="238.5" y="2880.5" width="31.0" height="31.0" rx="2.5" fill="#00B050"/><rect x="494.1" y="2548.5" width="31.0" height="31.0" rx="2.5" fill="#00B050"/><rect x="600.0" y="2406.9" width="31.0" height="31.0" rx="2.5" fill="#00B050"/><rect x="681.2" y="2319.3" width="31.0" height="31.0" rx="2.5" fill="#00B050"/><rect x="749.7" y="2243.7" width="31.0" height="31.0" rx="2.5" fill="#00B050"/><rect x="810.1" y="2187.7" width="31.0" height="31.0" rx="2.5" fill="#00B050"/><rect x="864.6" y="2135.4" width="31.0" height="31.0" rx="2.5" fill="#00B050"/><rect x="914.8" y="2093.1" width="31.0" height="31.0" rx="2.5" fill="#00B050"/><rect x="961.5" y="2051.1" width="31.0" height="31.0" rx="2.5" fill="#00B050"/><rect x="1005.3" y="2015.8" width="31.0" height="31.0" rx="2.5" fill="#00B050"/><rect x="1046.8" y="1984.8" width="31.0" height="31.0" rx="2.5" fill="#00B050"/><rect x="1086.2" y="1961.0" width="31.0" height="31.0" rx="2.5" fill="#00B050"/><rect x="1124.0" y="1930.5" width="31.0" height="31.0" rx="2.5" fill="#00B050"/><rect x="1195.0" y="1905.2" width="31.0" height="31.0" rx="2.5" fill="#00B050"/><rect x="1260.9" y="1882.2" width="31.0" height="31.0" rx="2.5" fill="#00B050"/><rect x="1381.6" y="1842.4" width="31.0" height="31.0" rx="2.5" fill="#00B050"/><rect x="1490.7" y="1822.9" width="31.0" height="31.0" rx="2.5" fill="#00B050"/><rect x="1591.0" y="1806.9" width="31.0" height="31.0" rx="2.5" fill="#00B050"/><rect x="1684.4" y="1801.1" width="31.0" height="31.0" rx="2.5" fill="#00B050"/><rect x="1772.1" y="1788.6" width="31.0" height="31.0" rx="2.5" fill="#00B050"/><rect x="1855.1" y="1788.6" width="31.0" height="31.0" rx="2.5" fill="#00B050"/><circle cx="254.0" cy="2896.0" r="15.4" fill="#24591D"/><circle cx="509.6" cy="2604.0" r="15.4" fill="#24591D"/><circle cx="615.5" cy="2527.7" r="15.4" fill="#24591D"/><circle cx="696.7" cy="2482.7" r="15.4" fill="#24591D"/><circle cx="765.2" cy="2452.1" r="15.4" fill="#24591D"/><circle cx="825.6" cy="2418.6" r="15.4" fill="#24591D"/><circle cx="880.1" cy="2427.1" r="15.4" fill="#24591D"/><circle cx="930.3" cy="2380.3" r="15.4" fill="#24591D"/><circle cx="977.0" cy="2362.8" r="15.4" fill="#24591D"/><circle cx="1020.8" cy="2347.1" r="15.4" fill="#24591D"/><circle cx="1062.3" cy="2336.8" r="15.4" fill="#24591D"/><circle cx="1101.7" cy="2327.5" r="15.4" fill="#24591D"/><circle cx="1139.5" cy="2319.5" r="15.4" fill="#24591D"/><circle cx="1210.5" cy="2306.8" r="15.4" fill="#24591D"/><circle cx="1276.4" cy="2294.5" r="15.4" fill="#24591D"/><circle cx="1397.1" cy="2276.8" r="15.4" fill="#24591D"/><circle cx="1506.2" cy="2271.8" r="15.4" fill="#24591D"/><circle cx="1606.5" cy="2257.0" r="15.4" fill="#24591D"/><circle cx="1699.9" cy="2249.7" r="15.4" fill="#24591D"/><circle cx="1787.6" cy="2244.0" r="15.4" fill="#24591D"/><circle cx="1870.6" cy="2236.2" r="15.4" fill="#24591D"/><rect x="238.5" y="2880.5" width="31.0" height="31.0" rx="2.5" fill="#24591D"/><rect x="494.1" y="2574.0" width="31.0" height="31.0" rx="2.5" fill="#24591D"/><rect x="600.0" y="2489.7" width="31.0" height="31.0" rx="2.5" fill="#24591D"/><rect x="681.2" y="2433.1" width="31.0" height="31.0" rx="2.5" fill="#24591D"/><rect x="749.7" y="2392.6" width="31.0" height="31.0" rx="2.5" fill="#24591D"/><rect x="810.1" y="2356.3" width="31.0" height="31.0" rx="2.5" fill="#24591D"/><rect x="864.6" y="2325.8" width="31.0" height="31.0" rx="2.5" fill="#24591D"/><rect x="914.8" y="2301.3" width="31.0" height="31.0" rx="2.5" fill="#24591D"/><rect x="961.5" y="2277.8" width="31.0" height="31.0" rx="2.5" fill="#24591D"/><rect x="1005.3" y="2255.8" width="31.0" height="31.0" rx="2.5" fill="#24591D"/><rect x="1046.8" y="2232.7" width="31.0" height="31.0" rx="2.5" fill="#24591D"/><rect x="1086.2" y="2218.0" width="31.0" height="31.0" rx="2.5" fill="#24591D"/><rect x="1124.0" y="2204.0" width="31.0" height="31.0" rx="2.5" fill="#24591D"/><rect x="1195.0" y="2178.7" width="31.0" height="31.0" rx="2.5" fill="#24591D"/><rect x="1260.9" y="2163.2" width="31.0" height="31.0" rx="2.5" fill="#24591D"/><rect x="1381.6" y="2140.2" width="31.0" height="31.0" rx="2.5" fill="#24591D"/><rect x="1490.7" y="2119.4" width="31.0" height="31.0" rx="2.5" fill="#24591D"/><rect x="1591.0" y="2106.4" width="31.0" height="31.0" rx="2.5" fill="#24591D"/><rect x="1684.4" y="2080.6" width="31.0" height="31.0" rx="2.5" fill="#24591D"/><rect x="1772.1" y="2073.9" width="31.0" height="31.0" rx="2.5" fill="#24591D"/><rect x="1855.1" y="2060.3" width="31.0" height="31.0" rx="2.5" fill="#24591D"/><circle cx="704.4" cy="2663.2" r="15.4" fill="#00B050"/><text x="737.76" y="2680.60" font-size="60" font-weight="bold" textLength="513.14" lengthAdjust="spacingAndGlyphs" class="lt">GS-MeFPIA1 25 °C</text><rect x="1365.3" y="2647.7" width="31.0" height="31.0" rx="2.5" fill="#00B050"/><text x="1414.65" y="2680.60" font-size="60" font-weight="bold" textLength="514.96" lengthAdjust="spacingAndGlyphs" class="lt">GS-MeFPIA1 37 °C</text><circle cx="704.4" cy="2741.8" r="15.4" fill="#24591D"/><text x="737.73" y="2759.20" font-size="60" font-weight="bold" textLength="561.71" lengthAdjust="spacingAndGlyphs" class="lt">GS-MeFPIA1D 25 °C</text><rect x="1365.3" y="2726.3" width="31.0" height="31.0" rx="2.5" fill="#24591D"/><text x="1414.61" y="2759.20" font-size="60" font-weight="bold" textLength="565.05" lengthAdjust="spacingAndGlyphs" class="lt">GS-MeFPIA1D 37 °C</text></g>
<g><rect x="254" y="3215" width="1865" height="1268" fill="none" stroke="#000" stroke-width="7.2"/><path d="M233.0 4483.0H254M238.5 4356.2H254M233.0 4229.4H254M238.5 4102.6H254M233.0 3975.8H254M238.5 3849.0H254M233.0 3722.2H254M238.5 3595.4H254M233.0 3468.6H254M238.5 3341.8H254M233.0 3215.0H254M254.0 4483V4503.0M370.6 4483V4498.0M487.1 4483V4503.0M603.7 4483V4498.0M720.2 4483V4503.0M836.8 4483V4498.0M953.4 4483V4503.0M1069.9 4483V4498.0M1186.5 4483V4503.0M1303.1 4483V4498.0M1419.6 4483V4503.0M1536.2 4483V4498.0M1652.8 4483V4503.0M1769.3 4483V4498.0M1885.9 4483V4503.0M2002.4 4483V4498.0M2119.0 4483V4503.0" stroke="#000" stroke-width="7.2" fill="none"/><text x="119.68" y="4499.20" class="tk" textLength="75.62" lengthAdjust="spacingAndGlyphs">0.0</text><text x="119.68" y="4245.60" class="tk" textLength="75.62" lengthAdjust="spacingAndGlyphs">1.0</text><text x="119.68" y="3992.00" class="tk" textLength="75.62" lengthAdjust="spacingAndGlyphs">2.0</text><text x="119.68" y="3738.40" class="tk" textLength="75.62" lengthAdjust="spacingAndGlyphs">3.0</text><text x="119.68" y="3484.80" class="tk" textLength="75.62" lengthAdjust="spacingAndGlyphs">4.0</text><text x="119.68" y="3231.20" class="tk" textLength="75.62" lengthAdjust="spacingAndGlyphs">5.0</text><text x="237.82" y="4582.70" class="tk" textLength="32.37" lengthAdjust="spacingAndGlyphs">0</text><text x="471.30" y="4582.70" class="tk" textLength="32.37" lengthAdjust="spacingAndGlyphs">2</text><text x="703.94" y="4582.70" class="tk" textLength="32.37" lengthAdjust="spacingAndGlyphs">4</text><text x="936.76" y="4582.70" class="tk" textLength="32.37" lengthAdjust="spacingAndGlyphs">6</text><text x="1170.32" y="4582.70" class="tk" textLength="32.37" lengthAdjust="spacingAndGlyphs">8</text><text x="1385.65" y="4582.70" class="tk" textLength="64.73" lengthAdjust="spacingAndGlyphs">10</text><text x="1619.32" y="4582.70" class="tk" textLength="64.73" lengthAdjust="spacingAndGlyphs">12</text><text x="1851.17" y="4582.70" class="tk" textLength="64.73" lengthAdjust="spacingAndGlyphs">14</text><text x="2084.75" y="4582.70" class="tk" textLength="64.73" lengthAdjust="spacingAndGlyphs">16</text><path d="M514.6 4244.3V4264.3M502.5 4244.3H526.7M502.5 4264.3H526.7" stroke="#0070C0" stroke-width="7.4" fill="none"/><path d="M622.6 4162.1V4178.1M610.5 4162.1H634.7M610.5 4178.1H634.7" stroke="#0070C0" stroke-width="7.4" fill="none"/><path d="M705.4 4109.1V4125.1M693.3 4109.1H717.5M693.3 4125.1H717.5" stroke="#0070C0" stroke-width="7.4" fill="none"/><path d="M775.3 4086.2V4102.2M763.2 4086.2H787.4M763.2 4102.2H787.4" stroke="#0070C0" stroke-width="7.4" fill="none"/><path d="M836.8 4057.6V4073.6M824.7 4057.6H848.9M824.7 4073.6H848.9" stroke="#0070C0" stroke-width="7.4" fill="none"/><path d="M892.4 4031.2V4047.2M880.3 4031.2H904.5M880.3 4047.2H904.5" stroke="#0070C0" stroke-width="7.4" fill="none"/><path d="M943.6 4011.2V4027.2M931.5 4011.2H955.7M931.5 4027.2H955.7" stroke="#0070C0" stroke-width="7.4" fill="none"/><path d="M991.3 3991.9V4007.9M979.2 3991.9H1003.4M979.2 4007.9H1003.4" stroke="#0070C0" stroke-width="7.4" fill="none"/><path d="M1035.9 3971.6V3987.6M1023.8 3971.6H1048.0M1023.8 3987.6H1048.0" stroke="#0070C0" stroke-width="7.4" fill="none"/><path d="M1078.2 3963.5V3979.5M1066.1 3963.5H1090.3M1066.1 3979.5H1090.3" stroke="#0070C0" stroke-width="7.4" fill="none"/><path d="M1118.4 3950.0V3966.0M1106.3 3950.0H1130.5M1106.3 3966.0H1130.5" stroke="#0070C0" stroke-width="7.4" fill="none"/><path d="M1156.9 3933.8V3949.8M1144.8 3933.8H1169.0M1144.8 3949.8H1169.0" stroke="#0070C0" stroke-width="7.4" fill="none"/><path d="M1229.3 3911.2V3927.2M1217.2 3911.2H1241.4M1217.2 3927.2H1241.4" stroke="#0070C0" stroke-width="7.4" fill="none"/><path d="M1296.5 3893.2V3909.2M1284.4 3893.2H1308.6M1284.4 3909.2H1308.6" stroke="#0070C0" stroke-width="7.4" fill="none"/><path d="M1419.6 3865.1V3881.1M1407.5 3865.1H1431.7M1407.5 3881.1H1431.7" stroke="#0070C0" stroke-width="7.4" fill="none"/><path d="M1530.8 3846.8V3862.8M1518.7 3846.8H1542.9M1518.7 3862.8H1542.9" stroke="#0070C0" stroke-width="7.4" fill="none"/><path d="M1633.2 3823.5V3839.5M1621.1 3823.5H1645.3M1621.1 3839.5H1645.3" stroke="#0070C0" stroke-width="7.4" fill="none"/><path d="M1728.4 3792.5V3836.5M1716.3 3792.5H1740.5M1716.3 3836.5H1740.5" stroke="#0070C0" stroke-width="7.4" fill="none"/><path d="M1817.8 3778.5V3818.5M1805.7 3778.5H1829.9M1805.7 3818.5H1829.9" stroke="#0070C0" stroke-width="7.4" fill="none"/><path d="M1902.4 3780.1V3796.1M1890.3 3780.1H1914.5M1890.3 3796.1H1914.5" stroke="#0070C0" stroke-width="7.4" fill="none"/><path d="M514.6 4186.1V4234.1M502.5 4186.1H526.7M502.5 4234.1H526.7" stroke="#0070C0" stroke-width="7.4" fill="none"/><path d="M622.6 4085.1V4117.1M610.5 4085.1H634.7M610.5 4117.1H634.7" stroke="#0070C0" stroke-width="7.4" fill="none"/><path d="M705.4 4040.0V4084.0M693.3 4040.0H717.5M693.3 4084.0H717.5" stroke="#0070C0" stroke-width="7.4" fill="none"/><path d="M775.3 4002.5V4046.5M763.2 4002.5H787.4M763.2 4046.5H787.4" stroke="#0070C0" stroke-width="7.4" fill="none"/><path d="M836.8 3965.5V4015.5M824.7 3965.5H848.9M824.7 4015.5H848.9" stroke="#0070C0" stroke-width="7.4" fill="none"/><path d="M892.4 3938.3V3982.3M880.3 3938.3H904.5M880.3 3982.3H904.5" stroke="#0070C0" stroke-width="7.4" fill="none"/><path d="M943.6 3914.5V3958.5M931.5 3914.5H955.7M931.5 3958.5H955.7" stroke="#0070C0" stroke-width="7.4" fill="none"/><path d="M991.3 3896.2V3940.2M979.2 3896.2H1003.4M979.2 3940.2H1003.4" stroke="#0070C0" stroke-width="7.4" fill="none"/><path d="M1035.9 3868.1V3916.1M1023.8 3868.1H1048.0M1023.8 3916.1H1048.0" stroke="#0070C0" stroke-width="7.4" fill="none"/><path d="M1078.2 3852.9V3902.9M1066.1 3852.9H1090.3M1066.1 3902.9H1090.3" stroke="#0070C0" stroke-width="7.4" fill="none"/><path d="M1118.4 3835.7V3883.7M1106.3 3835.7H1130.5M1106.3 3883.7H1130.5" stroke="#0070C0" stroke-width="7.4" fill="none"/><path d="M1156.9 3814.8V3858.8M1144.8 3814.8H1169.0M1144.8 3858.8H1169.0" stroke="#0070C0" stroke-width="7.4" fill="none"/><path d="M1229.3 3794.5V3838.5M1217.2 3794.5H1241.4M1217.2 3838.5H1241.4" stroke="#0070C0" stroke-width="7.4" fill="none"/><path d="M1296.5 3778.7V3812.7M1284.4 3778.7H1308.6M1284.4 3812.7H1308.6" stroke="#0070C0" stroke-width="7.4" fill="none"/><path d="M1419.6 3739.7V3771.7M1407.5 3739.7H1431.7M1407.5 3771.7H1431.7" stroke="#0070C0" stroke-width="7.4" fill="none"/><path d="M1530.8 3712.2V3728.2M1518.7 3712.2H1542.9M1518.7 3728.2H1542.9" stroke="#0070C0" stroke-width="7.4" fill="none"/><path d="M1633.2 3692.9V3708.9M1621.1 3692.9H1645.3M1621.1 3708.9H1645.3" stroke="#0070C0" stroke-width="7.4" fill="none"/><path d="M1728.4 3666.3V3682.3M1716.3 3666.3H1740.5M1716.3 3682.3H1740.5" stroke="#0070C0" stroke-width="7.4" fill="none"/><path d="M1817.8 3646.2V3662.2M1805.7 3646.2H1829.9M1805.7 3662.2H1829.9" stroke="#0070C0" stroke-width="7.4" fill="none"/><path d="M1902.4 3620.7V3646.7M1890.3 3620.7H1914.5M1890.3 3646.7H1914.5" stroke="#0070C0" stroke-width="7.4" fill="none"/><path d="M514.6 4261.0V4281.0M502.5 4261.0H526.7M502.5 4281.0H526.7" stroke="#002060" stroke-width="7.4" fill="none"/><path d="M622.6 4162.8V4182.8M610.5 4162.8H634.7M610.5 4182.8H634.7" stroke="#002060" stroke-width="7.4" fill="none"/><path d="M705.4 4124.8V4140.8M693.3 4124.8H717.5M693.3 4140.8H717.5" stroke="#002060" stroke-width="7.4" fill="none"/><path d="M775.3 4091.6V4107.6M763.2 4091.6H787.4M763.2 4107.6H787.4" stroke="#002060" stroke-width="7.4" fill="none"/><path d="M836.8 4057.9V4089.9M824.7 4057.9H848.9M824.7 4089.9H848.9" stroke="#002060" stroke-width="7.4" fill="none"/><path d="M892.4 4046.4V4062.4M880.3 4046.4H904.5M880.3 4062.4H904.5" stroke="#002060" stroke-width="7.4" fill="none"/><path d="M943.6 4025.6V4041.6M931.5 4025.6H955.7M931.5 4041.6H955.7" stroke="#002060" stroke-width="7.4" fill="none"/><path d="M991.3 4007.9V4023.9M979.2 4007.9H1003.4M979.2 4023.9H1003.4" stroke="#002060" stroke-width="7.4" fill="none"/><path d="M1035.9 3990.4V4006.4M1023.8 3990.4H1048.0M1023.8 4006.4H1048.0" stroke="#002060" stroke-width="7.4" fill="none"/><path d="M1078.2 3978.5V3994.5M1066.1 3978.5H1090.3M1066.1 3994.5H1090.3" stroke="#002060" stroke-width="7.4" fill="none"/><path d="M1118.4 3965.0V3981.0M1106.3 3965.0H1130.5M1106.3 3981.0H1130.5" stroke="#002060" stroke-width="7.4" fill="none"/><path d="M1156.9 3948.9V3976.9M1144.8 3948.9H1169.0M1144.8 3976.9H1169.0" stroke="#002060" stroke-width="7.4" fill="none"/><path d="M1229.3 3937.9V3953.9M1217.2 3937.9H1241.4M1217.2 3953.9H1241.4" stroke="#002060" stroke-width="7.4" fill="none"/><path d="M1296.5 3917.1V3933.1M1284.4 3917.1H1308.6M1284.4 3933.1H1308.6" stroke="#002060" stroke-width="7.4" fill="none"/><path d="M1419.6 3886.9V3902.9M1407.5 3886.9H1431.7M1407.5 3902.9H1431.7" stroke="#002060" stroke-width="7.4" fill="none"/><path d="M1530.8 3866.4V3882.4M1518.7 3866.4H1542.9M1518.7 3882.4H1542.9" stroke="#002060" stroke-width="7.4" fill="none"/><path d="M1633.2 3845.6V3861.6M1621.1 3845.6H1645.3M1621.1 3861.6H1645.3" stroke="#002060" stroke-width="7.4" fill="none"/><path d="M1728.4 3827.3V3843.3M1716.3 3827.3H1740.5M1716.3 3843.3H1740.5" stroke="#002060" stroke-width="7.4" fill="none"/><path d="M1817.8 3813.9V3829.9M1805.7 3813.9H1829.9M1805.7 3829.9H1829.9" stroke="#002060" stroke-width="7.4" fill="none"/><path d="M1902.4 3792.9V3824.9M1890.3 3792.9H1914.5M1890.3 3824.9H1914.5" stroke="#002060" stroke-width="7.4" fill="none"/><path d="M514.6 4192.2V4236.2M502.5 4192.2H526.7M502.5 4236.2H526.7" stroke="#002060" stroke-width="7.4" fill="none"/><path d="M622.6 4102.9V4142.9M610.5 4102.9H634.7M610.5 4142.9H634.7" stroke="#002060" stroke-width="7.4" fill="none"/><path d="M705.4 4038.0V4082.0M693.3 4038.0H717.5M693.3 4082.0H717.5" stroke="#002060" stroke-width="7.4" fill="none"/><path d="M775.3 3995.4V4039.4M763.2 3995.4H787.4M763.2 4039.4H787.4" stroke="#002060" stroke-width="7.4" fill="none"/><path d="M836.8 3953.8V3997.8M824.7 3953.8H848.9M824.7 3997.8H848.9" stroke="#002060" stroke-width="7.4" fill="none"/><path d="M892.4 3924.1V3968.1M880.3 3924.1H904.5M880.3 3968.1H904.5" stroke="#002060" stroke-width="7.4" fill="none"/><path d="M943.6 3890.9V3934.9M931.5 3890.9H955.7M931.5 3934.9H955.7" stroke="#002060" stroke-width="7.4" fill="none"/><path d="M991.3 3865.0V3909.0M979.2 3865.0H1003.4M979.2 3909.0H1003.4" stroke="#002060" stroke-width="7.4" fill="none"/><path d="M1035.9 3835.6V3879.6M1023.8 3835.6H1048.0M1023.8 3879.6H1048.0" stroke="#002060" stroke-width="7.4" fill="none"/><path d="M1078.2 3815.6V3859.6M1066.1 3815.6H1090.3M1066.1 3859.6H1090.3" stroke="#002060" stroke-width="7.4" fill="none"/><path d="M1118.4 3797.8V3841.8M1106.3 3797.8H1130.5M1106.3 3841.8H1130.5" stroke="#002060" stroke-width="7.4" fill="none"/><path d="M1156.9 3774.3V3818.3M1144.8 3774.3H1169.0M1144.8 3818.3H1169.0" stroke="#002060" stroke-width="7.4" fill="none"/><path d="M1229.3 3743.6V3787.6M1217.2 3743.6H1241.4M1217.2 3787.6H1241.4" stroke="#002060" stroke-width="7.4" fill="none"/><path d="M1296.5 3716.1V3750.1M1284.4 3716.1H1308.6M1284.4 3750.1H1308.6" stroke="#002060" stroke-width="7.4" fill="none"/><path d="M1419.6 3673.7V3702.7M1407.5 3673.7H1431.7M1407.5 3702.7H1431.7" stroke="#002060" stroke-width="7.4" fill="none"/><path d="M1530.8 3638.4V3654.4M1518.7 3638.4H1542.9M1518.7 3654.4H1542.9" stroke="#002060" stroke-width="7.4" fill="none"/><path d="M1633.2 3606.9V3622.9M1621.1 3606.9H1645.3M1621.1 3622.9H1645.3" stroke="#002060" stroke-width="7.4" fill="none"/><path d="M1728.4 3575.0V3591.0M1716.3 3575.0H1740.5M1716.3 3591.0H1740.5" stroke="#002060" stroke-width="7.4" fill="none"/><path d="M1817.8 3544.3V3560.3M1805.7 3544.3H1829.9M1805.7 3560.3H1829.9" stroke="#002060" stroke-width="7.4" fill="none"/><path d="M1902.4 3532.4V3548.4M1890.3 3532.4H1914.5M1890.3 3548.4H1914.5" stroke="#002060" stroke-width="7.4" fill="none"/><circle cx="254.0" cy="4483.0" r="15.4" fill="#0070C0"/><circle cx="514.6" cy="4254.3" r="15.4" fill="#0070C0"/><circle cx="622.6" cy="4170.1" r="15.4" fill="#0070C0"/><circle cx="705.4" cy="4117.1" r="15.4" fill="#0070C0"/><circle cx="775.3" cy="4094.2" r="15.4" fill="#0070C0"/><circle cx="836.8" cy="4065.6" r="15.4" fill="#0070C0"/><circle cx="892.4" cy="4039.2" r="15.4" fill="#0070C0"/><circle cx="943.6" cy="4019.2" r="15.4" fill="#0070C0"/><circle cx="991.3" cy="3999.9" r="15.4" fill="#0070C0"/><circle cx="1035.9" cy="3979.6" r="15.4" fill="#0070C0"/><circle cx="1078.2" cy="3971.5" r="15.4" fill="#0070C0"/><circle cx="1118.4" cy="3958.0" r="15.4" fill="#0070C0"/><circle cx="1156.9" cy="3941.8" r="15.4" fill="#0070C0"/><circle cx="1229.3" cy="3919.2" r="15.4" fill="#0070C0"/><circle cx="1296.5" cy="3901.2" r="15.4" fill="#0070C0"/><circle cx="1419.6" cy="3873.1" r="15.4" fill="#0070C0"/><circle cx="1530.8" cy="3854.8" r="15.4" fill="#0070C0"/><circle cx="1633.2" cy="3831.5" r="15.4" fill="#0070C0"/><circle cx="1728.4" cy="3814.5" r="15.4" fill="#0070C0"/><circle cx="1817.8" cy="3798.5" r="15.4" fill="#0070C0"/><circle cx="1902.4" cy="3788.1" r="15.4" fill="#0070C0"/><rect x="238.5" y="4467.5" width="31.0" height="31.0" rx="2.5" fill="#0070C0"/><rect x="499.1" y="4194.6" width="31.0" height="31.0" rx="2.5" fill="#0070C0"/><rect x="607.1" y="4085.6" width="31.0" height="31.0" rx="2.5" fill="#0070C0"/><rect x="689.9" y="4046.5" width="31.0" height="31.0" rx="2.5" fill="#0070C0"/><rect x="759.8" y="4009.0" width="31.0" height="31.0" rx="2.5" fill="#0070C0"/><rect x="821.3" y="3975.0" width="31.0" height="31.0" rx="2.5" fill="#0070C0"/><rect x="876.9" y="3944.8" width="31.0" height="31.0" rx="2.5" fill="#0070C0"/><rect x="928.1" y="3921.0" width="31.0" height="31.0" rx="2.5" fill="#0070C0"/><rect x="975.8" y="3902.7" width="31.0" height="31.0" rx="2.5" fill="#0070C0"/><rect x="1020.4" y="3876.6" width="31.0" height="31.0" rx="2.5" fill="#0070C0"/><rect x="1062.7" y="3862.4" width="31.0" height="31.0" rx="2.5" fill="#0070C0"/><rect x="1102.9" y="3844.2" width="31.0" height="31.0" rx="2.5" fill="#0070C0"/><rect x="1141.4" y="3821.3" width="31.0" height="31.0" rx="2.5" fill="#0070C0"/><rect x="1213.8" y="3801.0" width="31.0" height="31.0" rx="2.5" fill="#0070C0"/><rect x="1281.0" y="3780.2" width="31.0" height="31.0" rx="2.5" fill="#0070C0"/><rect x="1404.1" y="3740.2" width="31.0" height="31.0" rx="2.5" fill="#0070C0"/><rect x="1515.3" y="3704.7" width="31.0" height="31.0" rx="2.5" fill="#0070C0"/><rect x="1617.7" y="3685.4" width="31.0" height="31.0" rx="2.5" fill="#0070C0"/><rect x="1712.9" y="3658.8" width="31.0" height="31.0" rx="2.5" fill="#0070C0"/><rect x="1802.3" y="3638.7" width="31.0" height="31.0" rx="2.5" fill="#0070C0"/><rect x="1886.9" y="3618.2" width="31.0" height="31.0" rx="2.5" fill="#0070C0"/><circle cx="254.0" cy="4483.0" r="15.4" fill="#002060"/><circle cx="514.6" cy="4271.0" r="15.4" fill="#002060"/><circle cx="622.6" cy="4172.8" r="15.4" fill="#002060"/><circle cx="705.4" cy="4132.8" r="15.4" fill="#002060"/><circle cx="775.3" cy="4099.6" r="15.4" fill="#002060"/><circle cx="836.8" cy="4073.9" r="15.4" fill="#002060"/><circle cx="892.4" cy="4054.4" r="15.4" fill="#002060"/><circle cx="943.6" cy="4033.6" r="15.4" fill="#002060"/><circle cx="991.3" cy="4015.9" r="15.4" fill="#002060"/><circle cx="1035.9" cy="3998.4" r="15.4" fill="#002060"/><circle cx="1078.2" cy="3986.5" r="15.4" fill="#002060"/><circle cx="1118.4" cy="3973.0" r="15.4" fill="#002060"/><circle cx="1156.9" cy="3962.9" r="15.4" fill="#002060"/><circle cx="1229.3" cy="3945.9" r="15.4" fill="#002060"/><circle cx="1296.5" cy="3925.1" r="15.4" fill="#002060"/><circle cx="1419.6" cy="3894.9" r="15.4" fill="#002060"/><circle cx="1530.8" cy="3874.4" r="15.4" fill="#002060"/><circle cx="1633.2" cy="3853.6" r="15.4" fill="#002060"/><circle cx="1728.4" cy="3835.3" r="15.4" fill="#002060"/><circle cx="1817.8" cy="3821.9" r="15.4" fill="#002060"/><circle cx="1902.4" cy="3808.9" r="15.4" fill="#002060"/><rect x="238.5" y="4467.5" width="31.0" height="31.0" rx="2.5" fill="#002060"/><rect x="499.1" y="4198.7" width="31.0" height="31.0" rx="2.5" fill="#002060"/><rect x="607.1" y="4107.4" width="31.0" height="31.0" rx="2.5" fill="#002060"/><rect x="689.9" y="4044.5" width="31.0" height="31.0" rx="2.5" fill="#002060"/><rect x="759.8" y="4001.9" width="31.0" height="31.0" rx="2.5" fill="#002060"/><rect x="821.3" y="3960.3" width="31.0" height="31.0" rx="2.5" fill="#002060"/><rect x="876.9" y="3930.6" width="31.0" height="31.0" rx="2.5" fill="#002060"/><rect x="928.1" y="3897.4" width="31.0" height="31.0" rx="2.5" fill="#002060"/><rect x="975.8" y="3871.5" width="31.0" height="31.0" rx="2.5" fill="#002060"/><rect x="1020.4" y="3842.1" width="31.0" height="31.0" rx="2.5" fill="#002060"/><rect x="1062.7" y="3822.1" width="31.0" height="31.0" rx="2.5" fill="#002060"/><rect x="1102.9" y="3804.3" width="31.0" height="31.0" rx="2.5" fill="#002060"/><rect x="1141.4" y="3780.8" width="31.0" height="31.0" rx="2.5" fill="#002060"/><rect x="1213.8" y="3750.1" width="31.0" height="31.0" rx="2.5" fill="#002060"/><rect x="1281.0" y="3717.6" width="31.0" height="31.0" rx="2.5" fill="#002060"/><rect x="1404.1" y="3672.7" width="31.0" height="31.0" rx="2.5" fill="#002060"/><rect x="1515.3" y="3630.9" width="31.0" height="31.0" rx="2.5" fill="#002060"/><rect x="1617.7" y="3599.4" width="31.0" height="31.0" rx="2.5" fill="#002060"/><rect x="1712.9" y="3567.5" width="31.0" height="31.0" rx="2.5" fill="#002060"/><rect x="1802.3" y="3536.8" width="31.0" height="31.0" rx="2.5" fill="#002060"/><rect x="1886.9" y="3524.9" width="31.0" height="31.0" rx="2.5" fill="#002060"/><circle cx="725.7" cy="4224.9" r="15.4" fill="#0070C0"/><text x="759.27" y="4242.50" font-size="60" font-weight="bold" textLength="510.40" lengthAdjust="spacingAndGlyphs" class="lt">GS-MeFPIA2 25 °C</text><rect x="1363.4" y="4209.4" width="31.0" height="31.0" rx="2.5" fill="#0070C0"/><text x="1414.66" y="4242.50" font-size="60" font-weight="bold" textLength="512.33" lengthAdjust="spacingAndGlyphs" class="lt">GS-MeFPIA2 37 °C</text><circle cx="725.7" cy="4314.2" r="15.4" fill="#002060"/><text x="759.24" y="4331.80" font-size="60" font-weight="bold" textLength="560.39" lengthAdjust="spacingAndGlyphs" class="lt">GS-MeFPIA2D 25 °C</text><rect x="1363.4" y="4298.7" width="31.0" height="31.0" rx="2.5" fill="#002060"/><text x="1414.63" y="4331.80" font-size="60" font-weight="bold" textLength="562.31" lengthAdjust="spacingAndGlyphs" class="lt">GS-MeFPIA2D 37 °C</text></g>
<text transform="translate(409.41,295.67) scale(1,0.8849)" x="0" y="0" font-size="76" font-weight="bold" textLength="22.69" lengthAdjust="spacingAndGlyphs">(</text><text x="434.76" y="302.00" font-size="76" font-weight="bold" textLength="54.90" lengthAdjust="spacingAndGlyphs">A</text><text transform="translate(492.28,295.67) scale(1,0.8849)" x="0" y="0" font-size="76" font-weight="bold" textLength="23.99" lengthAdjust="spacingAndGlyphs">)</text>
<text transform="translate(410.88,1892.27) scale(1,0.8622)" x="0" y="0" font-size="78" font-weight="bold" textLength="25.15" lengthAdjust="spacingAndGlyphs">(</text><text x="438.09" y="1898.60" font-size="78" font-weight="bold" textLength="44.57" lengthAdjust="spacingAndGlyphs">B</text><text transform="translate(483.87,1892.27) scale(1,0.8622)" x="0" y="0" font-size="78" font-weight="bold" textLength="25.15" lengthAdjust="spacingAndGlyphs">)</text>
<text transform="translate(457.99,3474.97) scale(1,0.8622)" x="0" y="0" font-size="78" font-weight="bold" textLength="22.82" lengthAdjust="spacingAndGlyphs">(</text><text x="481.07" y="3481.30" font-size="78" font-weight="bold" textLength="58.17" lengthAdjust="spacingAndGlyphs">C</text><text transform="translate(535.38,3474.97) scale(1,0.8622)" x="0" y="0" font-size="78" font-weight="bold" textLength="23.99" lengthAdjust="spacingAndGlyphs">)</text>
<g transform="translate(82.8,793.7) rotate(-90)"><text transform="translate(-2.86,-6.95) scale(1,0.8580)" x="0" y="0" font-size="78" font-weight="bold" textLength="21.65" lengthAdjust="spacingAndGlyphs" class="pb">(</text><text x="20.94" y="0.00" font-size="78" font-weight="bold" textLength="74.73" lengthAdjust="spacingAndGlyphs" class="tt">W</text><text x="95.58" y="15.40" font-size="53" font-weight="normal" textLength="14.73" lengthAdjust="spacingAndGlyphs" class="ss">t</text><text x="110.60" y="0.00" font-size="78" font-weight="bold" textLength="28.20" lengthAdjust="spacingAndGlyphs" class="tt">-</text><text x="138.25" y="0.00" font-size="78" font-weight="bold" textLength="74.00" lengthAdjust="spacingAndGlyphs" class="tt">W</text><text x="211.70" y="15.40" font-size="50" font-weight="normal" textLength="24.89" lengthAdjust="spacingAndGlyphs" class="ss">0</text><text transform="translate(240.16,-7.35) scale(1,0.8580)" x="0" y="0" font-size="78" font-weight="bold" textLength="20.10" lengthAdjust="spacingAndGlyphs" class="pb">)</text><text x="263.22" y="0.00" font-size="78" font-weight="bold" textLength="20.52" lengthAdjust="spacingAndGlyphs" class="tt">/</text><text x="286.65" y="0.00" font-size="78" font-weight="bold" textLength="74.00" lengthAdjust="spacingAndGlyphs" class="tt">W</text><text x="358.39" y="15.40" font-size="50" font-weight="normal" textLength="25.01" lengthAdjust="spacingAndGlyphs" class="ss">0</text></g>
<g transform="translate(80.5,2467.8) rotate(-90)"><text transform="translate(-2.86,-6.95) scale(1,0.8580)" x="0" y="0" font-size="78" font-weight="bold" textLength="21.65" lengthAdjust="spacingAndGlyphs" class="pb">(</text><text x="20.94" y="0.00" font-size="78" font-weight="bold" textLength="74.73" lengthAdjust="spacingAndGlyphs" class="tt">W</text><text x="95.58" y="15.40" font-size="53" font-weight="normal" textLength="14.73" lengthAdjust="spacingAndGlyphs" class="ss">t</text><text x="110.60" y="0.00" font-size="78" font-weight="bold" textLength="28.20" lengthAdjust="spacingAndGlyphs" class="tt">-</text><text x="138.25" y="0.00" font-size="78" font-weight="bold" textLength="74.00" lengthAdjust="spacingAndGlyphs" class="tt">W</text><text x="211.70" y="15.40" font-size="50" font-weight="normal" textLength="24.89" lengthAdjust="spacingAndGlyphs" class="ss">0</text><text transform="translate(240.16,-7.35) scale(1,0.8580)" x="0" y="0" font-size="78" font-weight="bold" textLength="20.10" lengthAdjust="spacingAndGlyphs" class="pb">)</text><text x="263.22" y="0.00" font-size="78" font-weight="bold" textLength="20.52" lengthAdjust="spacingAndGlyphs" class="tt">/</text><text x="286.65" y="0.00" font-size="78" font-weight="bold" textLength="74.00" lengthAdjust="spacingAndGlyphs" class="tt">W</text><text x="358.39" y="15.40" font-size="50" font-weight="normal" textLength="25.01" lengthAdjust="spacingAndGlyphs" class="ss">0</text></g>
<g transform="translate(87.2,4057.4) rotate(-90)"><text transform="translate(-2.86,-6.95) scale(1,0.8580)" x="0" y="0" font-size="78" font-weight="bold" textLength="21.65" lengthAdjust="spacingAndGlyphs" class="pb">(</text><text x="20.94" y="0.00" font-size="78" font-weight="bold" textLength="74.73" lengthAdjust="spacingAndGlyphs" class="tt">W</text><text x="95.58" y="15.40" font-size="53" font-weight="normal" textLength="14.73" lengthAdjust="spacingAndGlyphs" class="ss">t</text><text x="110.60" y="0.00" font-size="78" font-weight="bold" textLength="28.20" lengthAdjust="spacingAndGlyphs" class="tt">-</text><text x="138.25" y="0.00" font-size="78" font-weight="bold" textLength="74.00" lengthAdjust="spacingAndGlyphs" class="tt">W</text><text x="211.70" y="15.40" font-size="50" font-weight="normal" textLength="24.89" lengthAdjust="spacingAndGlyphs" class="ss">0</text><text transform="translate(240.16,-7.35) scale(1,0.8580)" x="0" y="0" font-size="78" font-weight="bold" textLength="20.10" lengthAdjust="spacingAndGlyphs" class="pb">)</text><text x="263.22" y="0.00" font-size="78" font-weight="bold" textLength="20.52" lengthAdjust="spacingAndGlyphs" class="tt">/</text><text x="286.65" y="0.00" font-size="78" font-weight="bold" textLength="74.00" lengthAdjust="spacingAndGlyphs" class="tt">W</text><text x="358.39" y="15.40" font-size="50" font-weight="normal" textLength="25.01" lengthAdjust="spacingAndGlyphs" class="ss">0</text></g>
<text x="994.79" y="1479.00" font-size="80" font-weight="bold" textLength="25.04" lengthAdjust="spacingAndGlyphs" class="tt">t</text><text x="1018.09" y="1455.80" font-size="45" font-weight="normal" textLength="69.93" lengthAdjust="spacingAndGlyphs" class="ss">1/2</text><text transform="translate(1103.62,1472.39) scale(1,0.8283)" x="0" y="0" font-size="80" font-weight="bold" textLength="22.56" lengthAdjust="spacingAndGlyphs" class="pb">(</text><text x="1126.25" y="1479.50" font-size="80" font-weight="bold" textLength="133.36" lengthAdjust="spacingAndGlyphs" class="tt">min</text><text transform="translate(1261.72,1472.39) scale(1,0.8283)" x="0" y="0" font-size="80" font-weight="bold" textLength="22.56" lengthAdjust="spacingAndGlyphs" class="pb">)</text><text x="1285.25" y="1455.90" font-size="45" font-weight="normal" textLength="69.03" lengthAdjust="spacingAndGlyphs" class="ss">1/2</text>
<text x="987.39" y="3074.00" font-size="80" font-weight="bold" textLength="25.04" lengthAdjust="spacingAndGlyphs" class="tt">t</text><text x="1010.69" y="3050.80" font-size="45" font-weight="normal" textLength="69.93" lengthAdjust="spacingAndGlyphs" class="ss">1/2</text><text transform="translate(1096.22,3067.39) scale(1,0.8283)" x="0" y="0" font-size="80" font-weight="bold" textLength="22.56" lengthAdjust="spacingAndGlyphs" class="pb">(</text><text x="1118.85" y="3074.50" font-size="80" font-weight="bold" textLength="133.36" lengthAdjust="spacingAndGlyphs" class="tt">min</text><text transform="translate(1254.32,3067.39) scale(1,0.8283)" x="0" y="0" font-size="80" font-weight="bold" textLength="22.56" lengthAdjust="spacingAndGlyphs" class="pb">)</text><text x="1277.85" y="3050.90" font-size="45" font-weight="normal" textLength="69.03" lengthAdjust="spacingAndGlyphs" class="ss">1/2</text>
<text x="1004.79" y="4672.00" font-size="80" font-weight="bold" textLength="25.04" lengthAdjust="spacingAndGlyphs" class="tt">t</text><text x="1028.09" y="4648.80" font-size="45" font-weight="normal" textLength="69.93" lengthAdjust="spacingAndGlyphs" class="ss">1/2</text><text transform="translate(1113.62,4665.39) scale(1,0.8283)" x="0" y="0" font-size="80" font-weight="bold" textLength="22.56" lengthAdjust="spacingAndGlyphs" class="pb">(</text><text x="1136.25" y="4672.50" font-size="80" font-weight="bold" textLength="133.36" lengthAdjust="spacingAndGlyphs" class="tt">min</text><text transform="translate(1271.72,4665.39) scale(1,0.8283)" x="0" y="0" font-size="80" font-weight="bold" textLength="22.56" lengthAdjust="spacingAndGlyphs" class="pb">)</text><text x="1295.25" y="4648.90" font-size="45" font-weight="normal" textLength="69.03" lengthAdjust="spacingAndGlyphs" class="ss">1/2</text>
</svg>
</body></html>
